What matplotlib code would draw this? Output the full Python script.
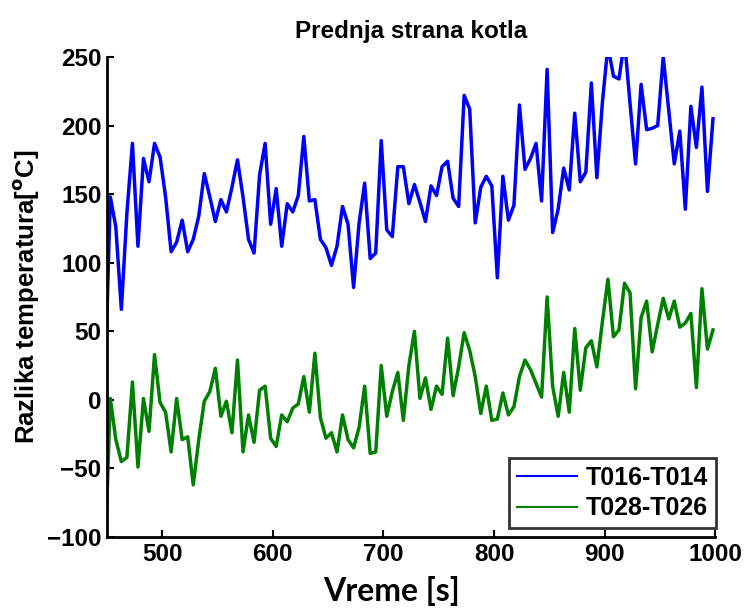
import numpy as np
import matplotlib
matplotlib.use('Agg')
import matplotlib.pyplot as plt

# samples every 5 s (first one sits just left of the axis limit)
vreme = np.arange(448, 1000, 5)

t016_t014 = [6, 148, 126, 66, 136, 187, 112, 176, 159, 187,
             177, 148, 108, 115, 131, 108, 117, 134, 165, 148,
             130, 146, 137, 155, 175, 148, 117, 107, 164, 187,
             128, 154, 112, 143, 137, 149, 192, 145, 146, 117,
             111, 98, 112, 141, 128, 82, 129, 158, 103, 107,
             189, 124, 119, 170, 170, 143, 157, 144, 130, 156,
             149, 170, 174, 147, 141, 222, 212, 129, 155, 163,
             156, 89, 163, 131, 142, 215, 168, 176, 187, 145,
             241, 122, 139, 169, 153, 209, 159, 166, 231, 162,
             217, 258, 236, 234, 262, 216, 172, 230, 197, 198,
             200, 250, 211, 172, 196, 139, 214, 184, 228, 152,
             205]

t028_t026 = [-120, 1, -29, -45, -42, 13, -49, 1, -23, 33,
             -2, -9, -38, 1, -29, -27, -62, -29, -1, 6,
             23, -12, -1, -24, 29, -38, -11, -31, 7, 10,
             -28, -34, -11, -16, -6, -3, 17, -9, 34, -13,
             -28, -24, -38, -11, -29, -35, -20, 10, -39, -38,
             25, -12, 6, 20, -15, 25, 50, 1, 16, -7,
             10, 4, 45, 3, 24, 49, 36, 17, -10, 10,
             -15, -14, 5, -11, -5, 17, 29, 22, 12, 2,
             75, 10, -12, 20, -9, 52, 7, 38, 43, 24,
             57, 88, 46, 51, 85, 78, 8, 60, 72, 35,
             55, 74, 59, 72, 53, 56, 63, 9, 81, 37,
             51]

xticks = [500, 600, 700, 800, 900, 1000]
yticks = [-100, -50, 0, 50, 100, 150, 200, 250]

plt.rcParams['font.family'] = ['Liberation Sans', 'DejaVu Sans']
plt.rcParams['font.weight'] = 'bold'

fig = plt.figure(figsize=(7.45, 6.1), dpi=100)
ax = fig.add_axes([0.1436, 0.1197, 0.8164, 0.7869])

ax.plot(vreme, t016_t014, color=(0, 0, 1), lw=2.5, label='T016-T014')
ax.plot(vreme, t028_t026, color=(0, 0.5, 0), lw=2.5, label='T028-T026')

ax.set_xlim(450, 1000)
ax.set_ylim(-100, 250)
ax.set_xticks(xticks)
ax.set_yticks(yticks)
ax.tick_params(direction='in', length=5, width=1.5, labelsize=17.5, pad=4)
for lbl in ax.get_xticklabels() + ax.get_yticklabels():
    lbl.set_fontweight('bold')

ax.spines['top'].set_visible(False)
ax.spines['right'].set_visible(False)
ax.spines['left'].set_linewidth(2)
ax.spines['bottom'].set_linewidth(2)

ax.set_title('Prednja strana kotla', fontsize=17.5, fontweight='bold', pad=14)
ax.set_ylabel(r'Razlika temperatura[$^{\mathbf{o}}$C]', fontsize=18.5,
              fontweight='bold')
ax.yaxis.set_label_coords(-0.108, 0.5)
ax.set_xlabel('Vreme [s]', fontsize=23, fontweight='bold', family='Lato')
ax.xaxis.set_label_coords(0.468, -0.082)

leg = ax.legend(loc='lower right', bbox_to_anchor=(1.022, -0.008), fontsize=18,
                frameon=True, fancybox=False, handlelength=2.4,
                borderpad=0.32, labelspacing=0.25, handletextpad=0.35)
leg.get_frame().set_edgecolor('black')
leg.get_frame().set_linewidth(2)
for line in leg.get_lines():
    line.set_linewidth(1.5)

fig.savefig('out.png', dpi=100)
